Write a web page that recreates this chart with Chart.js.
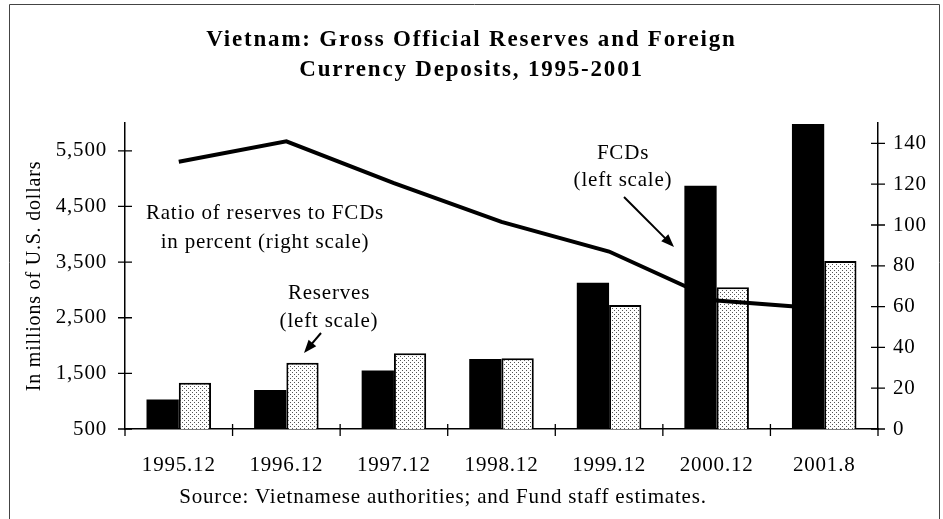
<!DOCTYPE html>
<html>
<head>
<meta charset="utf-8">
<script src="https://cdn.jsdelivr.net/npm/chart.js@4/dist/chart.umd.min.js"></script>
<style>
  html, body { margin: 0; padding: 0; background: #fff; }
  #wrap { width: 943px; height: 519px; }
</style>
</head>
<body>
<div id="wrap"><canvas id="chart"></canvas></div>
<script>
// Data
const categories = ['1995.12', '1996.12', '1997.12', '1998.12', '1999.12', '2000.12', '2001.8'];
const fcds = [1030, 1200, 1550, 1760, 3130, 4870, 5980];       // millions of US$
const reserves = [1330, 1690, 1860, 1770, 2730, 3050, 3520];   // millions of US$
const ratio = [131, 141, 120.5, 101.5, 87, 63, 59];            // percent
const leftTicks = [500, 1500, 2500, 3500, 4500, 5500];
const rightTicks = [0, 20, 40, 60, 80, 100, 120, 140];
const titleLines = ['Vietnam: Gross Official Reserves and Foreign', 'Currency Deposits, 1995-2001'];
const sourceNote = 'Source: Vietnamese authorities; and Fund staff estimates.';

const SERIF = "'Liberation Serif', 'Times New Roman', serif";

// Stippled fill for the reserves bars
function stipple() {
    const c = document.createElement('canvas');
    c.width = 4; c.height = 4;
    const g = c.getContext('2d');
    g.fillStyle = '#ffffff';
    g.fillRect(0, 0, 4, 4);
    g.fillStyle = '#555555';
    g.fillRect(0, 0, 1, 1);
    g.fillRect(2, 2, 1, 1);
    return g.createPattern(c, 'repeat');
}

function arrow(ctx, x1, y1, x2, y2) {
    const a = Math.atan2(y2 - y1, x2 - x1);
    ctx.beginPath();
    ctx.moveTo(x1, y1);
    ctx.lineTo(x2 - 8 * Math.cos(a), y2 - 8 * Math.sin(a));
    ctx.stroke();
    ctx.beginPath();
    ctx.moveTo(x2, y2);
    ctx.lineTo(x2 - 13 * Math.cos(a) + 5 * Math.sin(a), y2 - 13 * Math.sin(a) - 5 * Math.cos(a));
    ctx.lineTo(x2 - 13 * Math.cos(a) - 5 * Math.sin(a), y2 - 13 * Math.sin(a) + 5 * Math.cos(a));
    ctx.closePath();
    ctx.fill();
}

// Cross tick marks, frame, title, source and annotations
const extras = {
    id: 'extras',
    beforeDraw(chart) {
        // the scanned original has slightly wide text
        chart.ctx.letterSpacing = '0.8px';
    },
    afterDraw(chart) {
        const ctx = chart.ctx;
        const {x, y, y1} = chart.scales;
        ctx.save();
        ctx.strokeStyle = '#000';
        ctx.fillStyle = '#000';
        ctx.lineWidth = 1.3;
        ctx.beginPath();
        y.ticks.forEach(t => {
            const p = y.getPixelForValue(t.value);
            ctx.moveTo(y.right - 7, p); ctx.lineTo(y.right + 7, p);
        });
        y1.ticks.forEach(t => {
            const p = y1.getPixelForValue(t.value);
            ctx.moveTo(y1.left - 7, p); ctx.lineTo(y1.left + 7, p);
        });
        const w = (x.right - x.left) / categories.length;
        for (let k = 1; k < categories.length; k++) {
            const p = x.left + w * k;
            ctx.moveTo(p, x.top - 5); ctx.lineTo(p, x.top + 7);
        }
        ctx.moveTo(y.right, x.top); ctx.lineTo(y.right, x.top + 7);
        ctx.moveTo(y1.left, x.top); ctx.lineTo(y1.left, x.top + 7);
        ctx.stroke();

        // page frame
        ctx.strokeStyle = '#444';
        ctx.lineWidth = 1;
        ctx.beginPath();
        ctx.moveTo(9.5, 530); ctx.lineTo(9.5, 4.5); ctx.lineTo(939.5, 4.5); ctx.lineTo(939.5, 530);
        ctx.stroke();

        ctx.textAlign = 'center';
        ctx.textBaseline = 'middle';

        // title
        ctx.font = 'bold 23px ' + SERIF;
        ctx.letterSpacing = '1.8px';
        ctx.fillText(titleLines[0], chart.width / 2, 40);
        ctx.fillText(titleLines[1], chart.width / 2, 70);

        // source and annotations
        ctx.font = '21px ' + SERIF;
        ctx.letterSpacing = '0.8px';
        ctx.fillText(sourceNote, 443, 497);
        ctx.fillText('Ratio of reserves to FCDs', 265, 213);
        ctx.fillText('in percent (right scale)', 265, 242);
        ctx.fillText('Reserves', 329, 293);
        ctx.fillText('(left scale)', 329, 321);
        ctx.fillText('FCDs', 623, 153);
        ctx.fillText('(left scale)', 623, 180);
        ctx.lineWidth = 2;
        ctx.strokeStyle = '#000';
        arrow(ctx, 321, 333, 304, 353);
        arrow(ctx, 624, 197, 674, 247);
        ctx.restore();
    }
};

const ctx = document.getElementById('chart').getContext('2d');
const chart = new Chart(ctx, {
    type: 'bar',
    data: {
        labels: categories,
        datasets: [
            {
                type: 'line',
                label: 'Ratio of reserves to FCDs',
                data: ratio,
                yAxisID: 'y1',
                borderColor: '#000',
                borderWidth: 4,
                pointRadius: 0,
                tension: 0,
                order: 0
            },
            {
                label: 'FCDs',
                data: fcds,
                yAxisID: 'y',
                backgroundColor: '#000',
                borderWidth: 0,
                order: 1
            },
            {
                label: 'Reserves',
                data: reserves,
                yAxisID: 'y',
                backgroundColor: stipple(),
                borderColor: '#000',
                borderWidth: 2,
                order: 1
            }
        ]
    },
    options: {
        responsive: true,
        maintainAspectRatio: false,
        animation: false,
        events: [],
        layout: { padding: { left: 0, right: 0, top: 123, bottom: 36 } },
        datasets: { bar: { categoryPercentage: 0.6, barPercentage: 1.0 } },
        plugins: {
            legend: { display: false },
            tooltip: { enabled: false },
            title: { display: false }
        },
        scales: {
            x: {
                grid: { display: false, drawTicks: false, offset: true },
                border: { display: true, color: '#000', width: 1.5 },
                ticks: { color: '#000', font: { family: SERIF, size: 21 }, padding: 24, maxRotation: 0 },
                afterFit: s => { s.height = 54; }
            },
            y: {
                position: 'left',
                min: 500,
                max: 6000,
                afterBuildTicks: s => { s.ticks = leftTicks.map(v => ({ value: v })); },
                afterFit: s => { s.width = 125; },
                grid: { display: false, drawTicks: false },
                border: { display: true, color: '#000', width: 1.5 },
                ticks: {
                    color: '#000',
                    font: { family: SERIF, size: 21 },
                    padding: 18,
                    callback: v => v.toLocaleString('en-US')
                },
                title: {
                    display: true,
                    text: 'In millions of U.S. dollars',
                    color: '#000',
                    font: { family: SERIF, size: 20 },
                    padding: { top: 23, bottom: 0 }
                }
            },
            y1: {
                position: 'right',
                min: 0,
                max: 150,
                afterBuildTicks: s => { s.ticks = rightTicks.map(v => ({ value: v })); },
                afterFit: s => { s.width = 65; },
                grid: { display: false, drawTicks: false },
                border: { display: true, color: '#000', width: 1.5 },
                ticks: { color: '#000', font: { family: SERIF, size: 21 }, padding: 15 }
            }
        }
    },
    plugins: [extras]
});
</script>
</body>
</html>
